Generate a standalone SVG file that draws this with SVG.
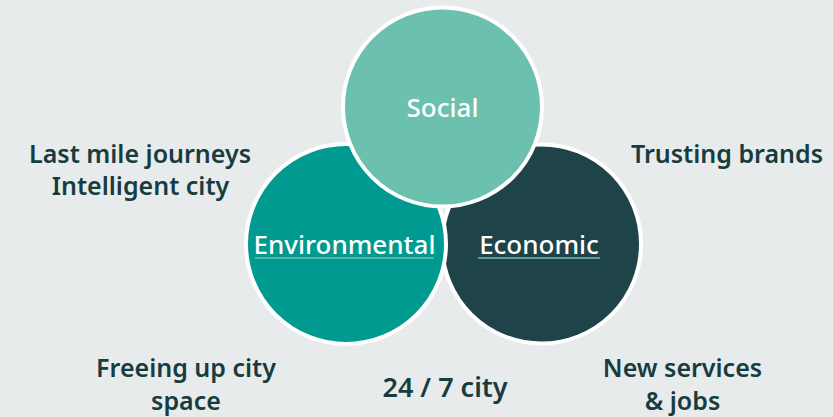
<svg xmlns="http://www.w3.org/2000/svg" width="833" height="417" viewBox="0 0 833 417">
<style>
.c{stroke:#fff;stroke-width:4}
.lbl{font-family:"Noto Sans","Open Sans",sans-serif;font-weight:600;font-size:25px;fill:#173c40;text-anchor:middle}
.in{font-family:"Noto Sans","Open Sans",sans-serif;font-weight:500;font-size:26px;fill:#fff;text-anchor:middle}
.ul{stroke:#6cc0ae;stroke-width:1.5}
</style>
<rect width="833" height="417" fill="#e8ebec"/>
<g id="economic">
<circle class="c" cx="541.5" cy="244" r="99.5" fill="#1e4349"/>
<text class="in" x="539" y="254">Economic</text>
<line class="ul" x1="478" y1="258" x2="600" y2="258"/>
</g>
<g id="environmental">
<circle class="c" cx="346" cy="244" r="100" fill="#009a90"/>
<text class="in" x="344.5" y="254">Environmental</text>
<line class="ul" x1="255" y1="258" x2="434" y2="258"/>
</g>
<g id="social">
<circle class="c" cx="442.5" cy="107" r="99.5" fill="#6cc0ae"/>
<text class="in" x="442.5" y="117">Social</text>
</g>
<g id="connectors"/>
<g id="labels">
<text class="lbl" x="140" y="163">Last mile journeys</text>
<text class="lbl" x="140.5" y="195">Intelligent city</text>
<text class="lbl" x="727" y="163">Trusting brands</text>
<text class="lbl" x="186" y="377">Freeing up city</text>
<text class="lbl" x="186" y="410">space</text>
<text class="lbl" x="445" y="397" style="font-size:27px">24 / 7 city</text>
<text class="lbl" x="682.5" y="377">New services</text>
<text class="lbl" x="682.5" y="410">&amp; jobs</text>
</g>
</svg>
